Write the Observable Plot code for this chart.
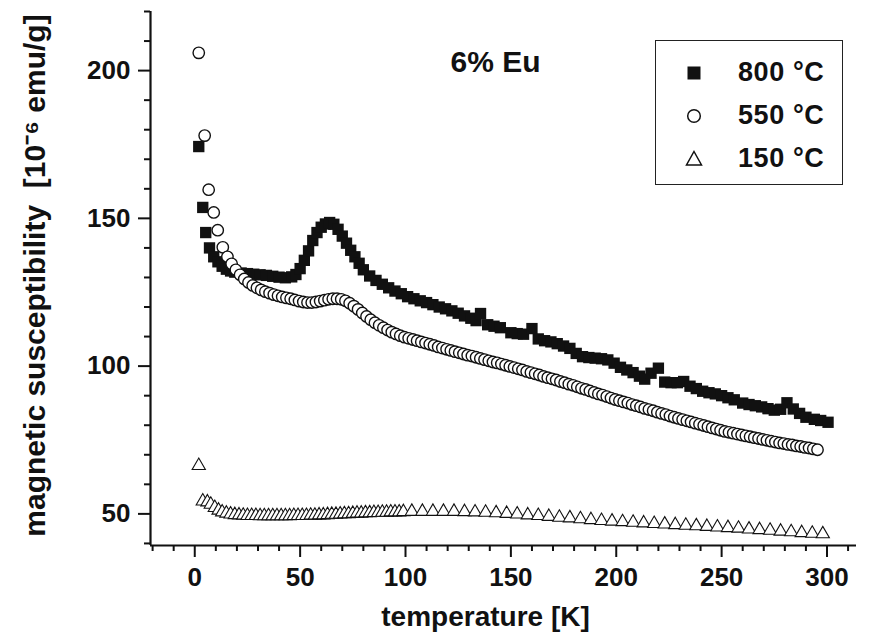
<!DOCTYPE html>
<html>
<head>
<meta charset="utf-8">
<script src="https://cdn.jsdelivr.net/npm/d3@7"></script>
<script src="https://cdn.jsdelivr.net/npm/@observablehq/plot@0.6"></script>
<style>
  html, body { margin: 0; padding: 0; background: #fff; }
  #wrap { position: relative; width: 870px; height: 643px; font-family: "Liberation Sans", Arial, sans-serif; color: #111; }
  .legend { position: absolute; left: 655px; top: 40px; width: 188px; height: 145px; box-sizing: border-box;
            border: 1.5px solid #222; padding-top: 10px; background: #fff; }
  .row { display: flex; align-items: center; height: 43px; }
  .row svg { margin-left: 26px; width: 24px; height: 24px; }
  .row span { margin-left: 32px; font-size: 27px; font-weight: bold; letter-spacing: 0.6px; }
</style>
</head>
<body>
<div id="wrap"></div>
<script>
// ---------- data ----------
const seriesNames = ["800 °C", "550 °C", "150 °C"];
const chartTitle = "6% Eu";
const xLabel = "temperature [K]";
const yLabel = "magnetic susceptibility  [10⁻⁶ emu/g]";
const xMajorTicks = [0, 50, 100, 150, 200, 250, 300];
const yMajorTicks = [50, 100, 150, 200];

const t800 = [1.9,3.8,5.2,7,9,11,13,15,17,19,22,25,28,31,34,37,40,43,46,48,50,52,54,56,58,60,62,64,66,68,70,72,74,76,78,80,83,86,89,92,95,98,101,104,107,110,113,116,119,122,125,128,131,133.5,135.6,139,142,145,150,153,156,160,163,166,169,172,175,178,181,184,187,190,193,196,199,202,205,208,211,213.5,216.5,220,223,226,229,232,235,238,241,244,247,250,253,256,260,263,266,269,272,275,278,281,284,287,290,294,297,300.5];
const chi800 = [174.3,153.7,145.2,140,137,135.3,133.8,132.8,132.2,131.8,131.5,131.3,131.1,130.9,130.7,130.4,130.1,129.9,130.2,131,133,135.8,139,142.5,145.2,147,148.1,148.6,148,146.3,144,141.6,139.2,137,134.8,132.6,130.5,129,127.7,126.5,125.4,124.5,123.5,122.8,122.1,121.5,120.8,120,119.4,118.7,117.9,117,116.2,115.4,117.8,114,113.5,113,111.3,111,110.8,112.7,109.2,108.6,108.2,107.6,106.8,106,104.3,103.2,102.9,102.7,102.5,102.1,101,99.6,98.7,97.8,96.6,95.6,97.6,99.3,94.6,94.4,94.4,94.8,93.2,92.4,91.5,91,90.6,90,89.3,88.6,87.5,87,86.6,86.2,85.6,85.1,85.4,87.6,85.5,84,82.7,82,81.6,81];

const t550 = [1.9,4.7,6.6,9,10.9,13.3,15.5,17.5,19.5,21.5,23.5,25.5,27.5,29.5,31.5,33.5,35.5,37.5,39.5,41.5,43.5,45.5,47.5,49.5,51.5,53.5,55.5,57.5,59.5,61.5,63.5,65.5,67.5,69.5,71.5,73.5,75.5,77.5,79.5,81.5,83.5,85.5,87.5,89.5,91.5,93.5,95.5,97.5,99.5,101.5,103.5,105.5,107.5,109.5,111.5,113.5,115.5,117.5,119.5,121.5,123.5,125.5,127.5,129.5,131.5,133.5,135.5,137.5,139.5,141.5,143.5,145.5,147.5,149.5,151.5,153.5,155.5,157.5,159.5,161.5,163.5,165.5,167.5,169.5,171.5,173.5,175.5,177.5,179.5,181.5,183.5,185.5,187.5,189.5,191.5,193.5,195.5,197.5,199.5,201.5,203.5,205.5,207.5,209.5,211.5,213.5,215.5,217.5,219.5,221.5,223.5,225.5,227.5,229.5,231.5,233.5,235.5,237.5,239.5,241.5,243.5,245.5,247.5,249.5,251.5,253.5,255.5,257.5,259.5,261.5,263.5,265.5,267.5,269.5,271.5,273.5,275.5,277.5,279.5,281.5,283.5,285.5,287.5,289.5,291.5,293.5,295.5];
const chi550 = [206,178,159.7,152,146,140.2,137.0,134.6,132.6,130.9,129.5,128.3,127.3,126.5,125.8,125.2,124.7,124.2,123.8,123.4,123.1,122.8,122.4,122.0,121.7,121.5,121.5,121.7,122.0,122.3,122.6,122.8,122.8,122.6,122.1,121.3,120.3,119.2,118.0,116.8,115.7,114.7,113.8,113.0,112.2,111.5,110.9,110.3,109.8,109.4,109.0,108.6,108.2,107.8,107.4,107.0,106.5,106.1,105.7,105.3,104.9,104.5,104.1,103.7,103.4,103.0,102.6,102.2,101.8,101.4,101.1,100.7,100.3,99.9,99.5,99.1,98.7,98.2,97.8,97.4,97.0,96.5,96.1,95.7,95.3,94.8,94.4,93.9,93.5,93.0,92.5,92.1,91.6,91.1,90.6,90.2,89.7,89.2,88.7,88.3,87.9,87.5,87.0,86.6,86.2,85.7,85.3,84.9,84.4,84.0,83.6,83.1,82.7,82.3,81.9,81.5,81.1,80.7,80.3,79.9,79.5,79.1,78.7,78.3,77.9,77.6,77.3,77.0,76.7,76.4,76.1,75.8,75.5,75.2,74.9,74.6,74.3,74.0,73.8,73.5,73.3,73.0,72.8,72.5,72.3,72.0,71.7];

const t150 = [1.9,3.8,6,7.6,9.5,11.3,13,15,17,19,21,23,25,27,29,31,33,35,37,39,41,43,45,47,49,51,53,55,57,59,61,63,65,67,69,71,73,75,77,79,81,83,85,87,89,91,93,95,97,99,103,108,113,118,123,128,133,138,143,148,153,158,163,168,173,178,183,188,193,198,203,208,213,218,223,228,233,238,243,248,253,258,263,268,273,278,283,288,293,298];
const chi150 = [66.3,54.3,54.0,53.2,52.1,51.2,50.6,50.2,49.9,49.7,49.6,49.5,49.4,49.4,49.4,49.3,49.3,49.3,49.3,49.3,49.3,49.3,49.3,49.4,49.4,49.4,49.4,49.5,49.5,49.6,49.6,49.7,49.8,49.8,49.9,50.0,50.0,50.1,50.2,50.2,50.3,50.3,50.4,50.4,50.5,50.5,50.6,50.6,50.6,50.7,50.8,50.8,50.8,50.8,50.8,50.7,50.6,50.5,50.3,50.1,49.9,49.6,49.4,49.1,48.8,48.6,48.3,48.0,47.7,47.5,47.3,47.1,46.9,46.7,46.5,46.3,46.1,45.9,45.7,45.5,45.3,45.1,44.8,44.6,44.4,44.1,43.9,43.6,43.4,43.2];

// ---------- build ----------
const toRows = (ts, vs) => ts.map((t, i) => ({t, v: vs[i]}));
const d800 = toRows(t800, chi800);
const d550 = toRows(t550, chi550);
const d150 = toRows(t150, chi150);

const xDomain = [-21, 314];
const yDomain = [39.3, 220];
const xMinorTicks = d3.range(-20, 311, 10).filter(v => v % 50 !== 0);
const yMinorTicks = d3.range(40, 221, 10).filter(v => v % 50 !== 0);
const ink = "#111";

const chart = Plot.plot({
  width: 870,
  height: 643,
  marginLeft: 150,
  marginRight: 14,
  marginTop: 11,
  marginBottom: 98,
  style: {fontFamily: "'Liberation Sans', Arial, sans-serif", fontWeight: "bold", fontSize: "26px", color: ink, background: "white"},
  x: {domain: xDomain, axis: null},
  y: {domain: yDomain, axis: null},
  marks: [
    Plot.axisX(xMinorTicks, {tickSize: 6, strokeWidth: 2, fill: "none", label: null}),
    Plot.axisX(xMajorTicks, {tickSize: 12, tickPadding: 10, strokeWidth: 2, fontSize: 26, fontWeight: "bold", label: null}),
    Plot.axisY(yMinorTicks, {tickSize: 6, strokeWidth: 2, fill: "none", label: null}),
    Plot.axisY(yMajorTicks, {tickSize: 12, tickPadding: 8, strokeWidth: 2, fontSize: 26, fontWeight: "bold", label: null}),
    Plot.ruleX([xDomain[0]], {stroke: ink, strokeWidth: 2.2}),
    Plot.ruleY([yDomain[0]], {stroke: ink, strokeWidth: 2.2}),
    Plot.dot(d800, {x: "t", y: "v", symbol: "square", r: 6.4, fill: ink, stroke: "none"}),
    Plot.dot(d550, {x: "t", y: "v", symbol: "circle", r: 5.7, fill: "white", stroke: ink, strokeWidth: 1.4}),
    Plot.dot(d150, {x: "t", y: "v", symbol: "triangle", r: 4.9, fill: "white", stroke: ink, strokeWidth: 1.1}),
    Plot.text([chartTitle], {frameAnchor: "top", dx: -8, dy: 39, fontSize: 30, fontWeight: "bold", fill: ink}),
    Plot.text([xLabel], {frameAnchor: "bottom", dx: -18, dy: 80, fontSize: 28, fontWeight: "bold", fill: ink}),
    Plot.text([yLabel], {frameAnchor: "left", textAnchor: "middle", dx: -115, dy: -3, rotate: -90, fontSize: 30, fontWeight: "bold", fill: ink})
  ]
});

const wrap = document.getElementById("wrap");
wrap.appendChild(chart);

// legend (inside the plot area, top right)
const symbols = [
  '<rect x="5.5" y="5.5" width="13" height="13" fill="#111"/>',
  '<circle cx="12" cy="12" r="6.3" fill="white" stroke="#111" stroke-width="1.5"/>',
  '<polygon points="12,4.5 19.5,18 4.5,18" fill="white" stroke="#111" stroke-width="1.5"/>'
];
const legend = document.createElement("div");
legend.className = "legend";
seriesNames.forEach((name, i) => {
  const row = document.createElement("div");
  row.className = "row";
  row.innerHTML = `<svg viewBox="0 0 24 24">${symbols[i]}</svg><span>${name}</span>`;
  legend.appendChild(row);
});
wrap.appendChild(legend);
</script>
</body>
</html>
